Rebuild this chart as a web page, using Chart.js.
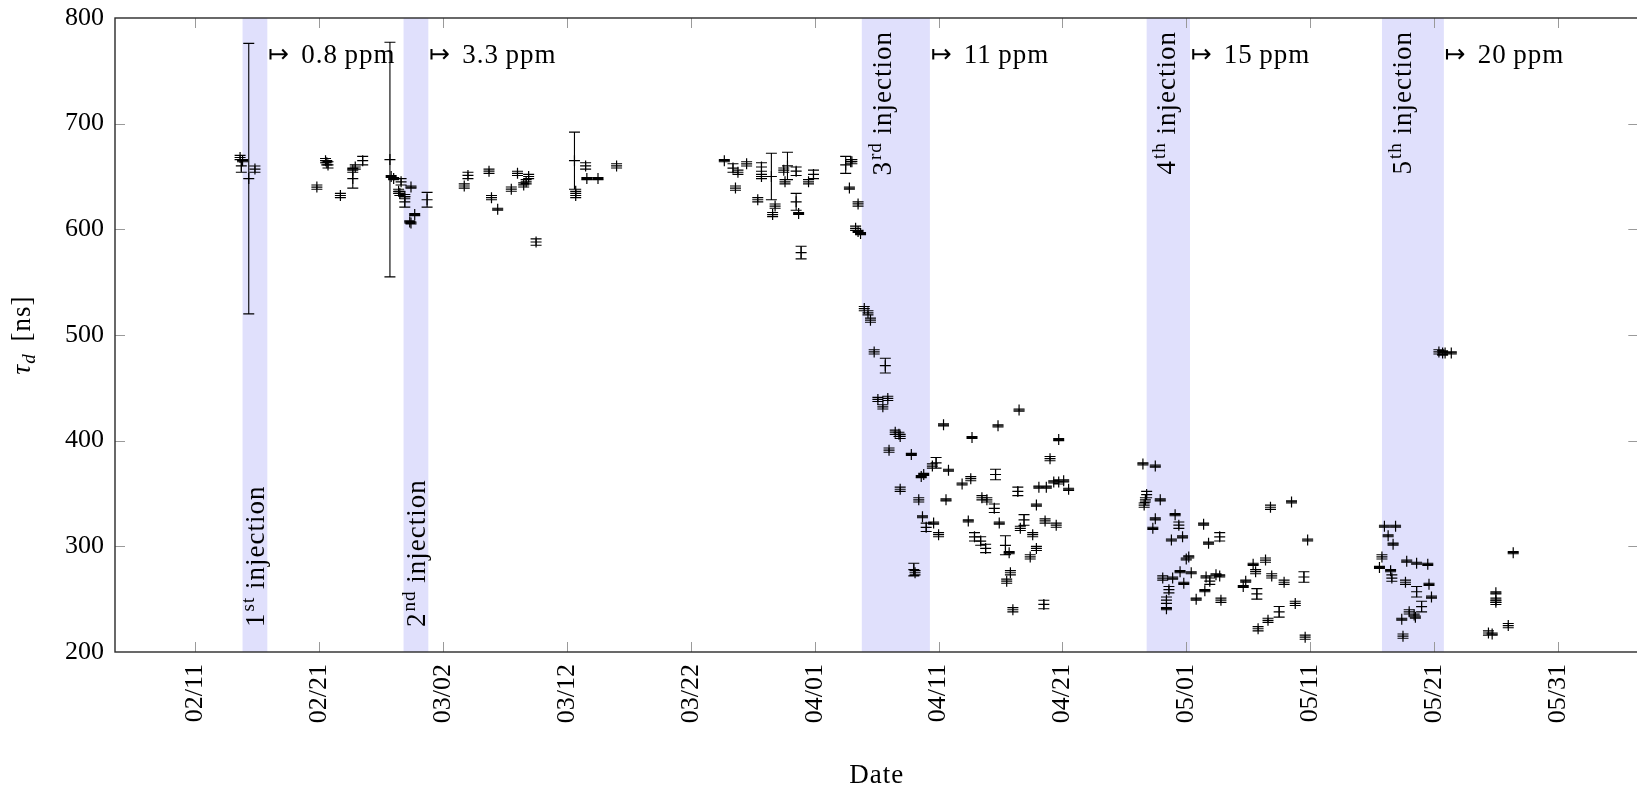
<!DOCTYPE html>
<html>
<head>
<meta charset="utf-8">
<script src="https://cdn.jsdelivr.net/npm/chart.js@4.4.1/dist/chart.umd.min.js"></script>
<style>
  html, body { margin: 0; padding: 0; background: #fff; overflow: hidden; }
  #wrap { width: 1637px; height: 787px; overflow: hidden; }
</style>
</head>
<body>
<div id="wrap"><canvas id="tauChart" width="1645" height="787"></canvas></div>
<script>
// x values are days counted from 02/01 (leap year), y values are tau_d in ns

// date axis
const tickDays = [10, 20, 30, 40, 50, 60, 70, 80, 90, 100, 110, 120];
const tickLabels = ['02/11', '02/21', '03/02', '03/12', '03/22', '04/01', '04/11', '04/21', '05/01', '05/11', '05/21', '05/31'];

// injections
const injStart = [13.8, 26.8, 63.8, 86.8, 105.8];
const injEnd = [15.8, 28.8, 69.3, 90.3, 110.8];
const injPpm = ['0.8', '3.3', '11', '15', '20'];
const injOrdinal = ['st', 'nd', 'rd', 'th', 'th'];

// 0 ppm
const days0 = [13.6, 13.7, 13.8];
const tau0 = [668, 660, 665];
const err0 = [2, 6, 1];

// 0.8 ppm
const days1 = [14.3, 14.8, 19.8, 20.5, 20.6, 20.7, 21.7, 22.7, 22.7, 22.9, 23.5, 25.7, 25.8, 26.0, 26.4, 26.5, 26.6];
const tau1 = [648, 657, 640, 665, 663, 661, 632, 656, 648, 659, 665, 666, 650, 648, 636, 634, 645];
const err1 = [128, 3, 2, 2, 2, 3, 2, 2, 9, 2, 4, 111, 1, 1, 2, 2, 3];

// 3.3 ppm
const days2 = [26.9, 26.9, 27.3, 27.4, 27.4, 27.7, 28.7, 31.7, 32.0, 33.7, 33.9, 34.4, 35.5, 36.0, 36.5, 36.7, 36.9, 37.5,
  40.6, 40.7, 40.7, 41.5, 41.6, 42.5, 44.0, 52.7, 53.4, 53.6, 53.8, 54.5, 55.4, 55.7, 55.7, 56.5, 56.6, 56.8,
  57.5, 57.6, 57.8, 58.5, 58.5, 58.7, 58.9, 59.5, 59.9, 62.5, 62.8, 62.9, 63.0, 63.3, 63.5, 63.5, 63.7];
const tau2 = [626, 631, 607, 606, 640, 614, 628, 641, 651, 655, 630, 619, 638, 653, 642, 645, 650, 588,
  665, 632, 636, 660, 648, 648, 660, 665, 658, 639, 654, 662, 628, 659, 650, 650, 614, 622,
  656, 645, 660, 655, 626, 615, 578, 645, 652, 661, 639, 664, 664, 601, 624, 598, 596];
const err2 = [5, 2, 1, 1, 1, 1, 7, 2, 3, 2, 2, 1, 2, 2, 2, 2, 2, 3,
  27, 2, 2, 3, 1, 1, 2, 1, 4, 2, 2, 2, 2, 4, 2, 22, 2, 2,
  2, 2, 13, 4, 8, 1, 6, 2, 4, 8, 1, 2, 2, 2, 2, 1, 1];

// 11 ppm
const days3 = [64.0, 64.3, 64.5, 64.8, 65.1, 65.5, 65.7, 65.9, 66.0, 66.5, 66.8, 66.9, 66.9, 67.8, 68.0, 68.1, 68.4,
  68.6, 68.7, 68.8, 69.0, 69.5, 69.6, 69.8, 70.0, 70.4, 70.6, 70.8, 71.9, 72.4, 72.6, 72.7, 72.9, 73.4, 73.5,
  73.8, 73.9, 74.5, 74.6, 74.8, 74.9, 75.4, 75.5, 75.7, 75.8, 76.0, 76.4, 76.5, 76.6, 76.9, 77.4, 77.6, 77.9,
  77.9, 78.1, 78.5, 78.6, 78.7, 79.0, 79.3, 79.5, 79.7, 79.7, 80.1, 80.5];
const tau3 = [525, 521, 514, 484, 439, 432, 471, 440, 391, 408, 406, 404, 354, 387, 278, 275, 344,
  366, 328, 368, 318, 376, 322, 379, 311, 415, 344, 372, 359, 324, 364, 403, 309, 305, 346,
  298, 344, 336, 368, 414, 322, 301, 267, 294, 275, 240, 352, 429, 317, 325, 290, 311, 298,
  339, 356, 245, 324, 356, 383, 361, 320, 361, 401, 362, 354];
const err3 = [2, 2, 2, 2, 2, 2, 7, 2, 2, 2, 2, 2, 2, 1, 6, 2, 2,
  1, 1, 1, 4, 2, 1, 5, 2, 1, 1, 1, 1, 1, 2, 1, 4, 4, 2,
  4, 2, 4, 5, 1, 1, 9, 2, 1, 2, 2, 4, 1, 2, 5, 2, 2, 2,
  1, 1, 4, 2, 1, 2, 1, 2, 2, 1, 1, 1];

// 15 ppm
const days4 = [86.5, 86.6, 86.7, 86.8, 87.3, 87.5, 87.5, 87.9, 88.1, 88.4, 88.4, 88.6, 88.8, 88.9, 89.1, 89.4,
  89.5, 89.7, 89.8, 90.0, 90.2, 90.4, 90.8, 91.4, 91.5, 91.6, 91.8, 91.9, 92.4, 92.7, 92.7, 92.8, 94.6, 94.8,
  95.4, 95.6, 95.7, 95.8, 96.4, 96.6, 96.8, 96.9, 97.5, 97.9, 98.5, 98.8, 99.5, 99.6, 99.8];
const tau4 = [378, 339, 344, 349, 317, 326, 376, 344, 270, 241, 249, 259, 306, 270, 330, 320,
  276, 309, 265, 288, 290, 275, 250, 321, 258, 271, 303, 267, 273, 272, 309, 249, 262, 267,
  283, 276, 255, 222, 287, 230, 337, 272, 238, 266, 342, 246, 271, 214, 306];
const err4 = [1, 2, 2, 3, 1, 1, 1, 1, 2, 1, 3, 3, 1, 1, 1, 3,
  1, 1, 1, 1, 1, 1, 1, 1, 1, 1, 1, 3, 1, 1, 4, 2, 1, 1,
  1, 2, 5, 2, 2, 2, 2, 2, 5, 2, 1, 2, 5, 2, 1];

// 20 ppm
const days5 = [105.6, 105.8, 106.0, 106.3, 106.5, 106.6, 106.7, 106.9, 107.4, 107.5, 107.7, 107.8, 108.0, 108.4,
  108.5, 108.6, 108.6, 109.0, 109.5, 109.6, 109.8, 110.4, 110.7, 110.9, 111.4, 114.4, 114.7, 115.0, 115.0,
  115.0, 116.0, 116.4];
const tau5 = [280, 290, 319, 310, 277, 270, 302, 319, 231, 215, 266, 286, 238, 235,
  233, 257, 284, 243, 283, 264, 252, 484, 483, 483, 483, 218, 217, 256, 249,
  247, 225, 294];
const err5 = [1, 2, 1, 1, 1, 3, 1, 1, 1, 2, 2, 1, 2, 1,
  1, 5, 1, 5, 1, 1, 1, 2, 2, 1, 1, 2, 1, 1, 2,
  2, 2, 1];

const SERIF = "'Liberation Serif', 'Times New Roman', serif";
const TICK_FONT = { family: SERIF, size: 26 };
const TEXT_FONT = '27px ' + SERIF;
const SUP_FONT = '19px ' + SERIF;
const CAP = 5.5;

const segments = [
  [days0, tau0, err0], [days1, tau1, err1], [days2, tau2, err2],
  [days3, tau3, err3], [days4, tau4, err4], [days5, tau5, err5]
];

const datasets = segments.map(([d, t, e]) => ({
  data: d.map((x, i) => ({ x: x, y: t[i] })),
  errors: e,
  pointStyle: 'cross',
  pointRadius: 5.5,
  pointHoverRadius: 5.5,
  pointBorderWidth: 1.2,
  borderColor: '#000',
  backgroundColor: '#000',
  showLine: false
}));

// shaded injection periods, inward ticks and the axis frame
const backdropPlugin = {
  id: 'backdrop',
  beforeDatasetsDraw(chart) {
    const { ctx, chartArea: a, scales: { x, y } } = chart;
    ctx.save();
    ctx.fillStyle = 'rgb(224,224,252)';
    injStart.forEach((s, i) => {
      const x0 = x.getPixelForValue(s), x1 = x.getPixelForValue(injEnd[i]);
      ctx.fillRect(x0, a.top, x1 - x0, a.bottom - a.top);
    });

    ctx.strokeStyle = '#9a9a9a';
    ctx.lineWidth = 1;
    ctx.beginPath();
    tickDays.forEach(d => {
      const px = Math.round(x.getPixelForValue(d)) + 0.5;
      ctx.moveTo(px, a.bottom); ctx.lineTo(px, a.bottom - 10);
      ctx.moveTo(px, a.top); ctx.lineTo(px, a.top + 10);
    });
    for (let v = 300; v <= 700; v += 100) {
      const py = Math.round(y.getPixelForValue(v)) + 0.5;
      ctx.moveTo(a.left, py); ctx.lineTo(a.left + 10, py);
      ctx.moveTo(a.right, py); ctx.lineTo(a.right - 10, py);
    }
    ctx.stroke();

    ctx.strokeStyle = '#2a2a2a';
    ctx.lineWidth = 1.4;
    ctx.strokeRect(a.left, a.top, a.right - a.left, a.bottom - a.top);
    ctx.restore();
  }
};

const errorBarPlugin = {
  id: 'errorBars',
  afterDatasetsDraw(chart) {
    const { ctx, scales: { y } } = chart;
    ctx.save();
    ctx.strokeStyle = '#000';
    ctx.lineWidth = 1.1;
    ctx.beginPath();
    chart.data.datasets.forEach((ds, i) => {
      chart.getDatasetMeta(i).data.forEach((pt, j) => {
        const v = ds.data[j].y, e = ds.errors[j];
        const top = y.getPixelForValue(v + e), bot = y.getPixelForValue(v - e);
        ctx.moveTo(pt.x, top); ctx.lineTo(pt.x, bot);
        ctx.moveTo(pt.x - CAP, top); ctx.lineTo(pt.x + CAP, top);
        ctx.moveTo(pt.x - CAP, bot); ctx.lineTo(pt.x + CAP, bot);
      });
    });
    ctx.stroke();
    ctx.restore();
  }
};

function widthOf(ctx, text, font) {
  ctx.font = font;
  return ctx.measureText(text).width;
}

// injection names, concentration arrows and axis titles
const textPlugin = {
  id: 'texts',
  afterDatasetsDraw(chart) {
    const { ctx, chartArea: a, scales: { x } } = chart;
    ctx.save();
    ctx.fillStyle = '#000';
    ctx.letterSpacing = '1px';
    ctx.textBaseline = 'alphabetic';
    ctx.textAlign = 'left';

    injStart.forEach((s, i) => {
      const mid = (s + injEnd[i]) / 2;
      const cx = x.getPixelForValue(Math.min(mid, s + 1.6));
      const num = String(i + 1), sup = injOrdinal[i], word = ' injection';
      const w1 = widthOf(ctx, num, TEXT_FONT);
      const w2 = widthOf(ctx, sup, SUP_FONT);
      const w3 = widthOf(ctx, word, TEXT_FONT);
      const start = i < 2 ? a.bottom - 25 : a.top + 14 + w1 + w2 + w3;
      ctx.save();
      ctx.translate(cx + 9, start);
      ctx.rotate(-Math.PI / 2);
      ctx.font = TEXT_FONT; ctx.fillText(num, 0, 0);
      ctx.font = SUP_FONT; ctx.fillText(sup, w1 + 1, -10);
      ctx.font = TEXT_FONT; ctx.fillText(word, w1 + w2 + 1, 0);
      ctx.restore();

      // concentration reached after the injection
      const px = x.getPixelForValue(injEnd[i]) + 1;
      const base = a.top + 45;
      const arrowFont = "25px 'DejaVu Sans', sans-serif";
      ctx.font = arrowFont;
      ctx.fillText('\u21A6', px, base - 1);
      const wa = widthOf(ctx, '\u21A6 ', arrowFont);
      ctx.font = TEXT_FONT;
      ctx.fillText(injPpm[i] + '\u2009ppm', px + wa + 2, base);
    });

    // x axis title
    ctx.font = TEXT_FONT;
    ctx.textAlign = 'center';
    ctx.fillText('Date', (a.left + a.right) / 2, 783);

    // y axis title: tau_d [ns]
    ctx.textAlign = 'left';
    const tauFont = 'italic 27px ' + SERIF, subFont = 'italic 19px ' + SERIF;
    const wt = widthOf(ctx, '\u03C4', tauFont);
    const wd = widthOf(ctx, 'd', subFont);
    const wn = widthOf(ctx, ' [ns]', TEXT_FONT);
    ctx.translate(30, (a.top + a.bottom) / 2);
    ctx.rotate(-Math.PI / 2);
    let off = -(wt + wd + 4 + wn) / 2;
    ctx.font = tauFont; ctx.fillText('\u03C4', off, 0);
    off += wt;
    ctx.font = subFont; ctx.fillText('d', off, 5);
    off += wd + 4;
    ctx.font = TEXT_FONT; ctx.fillText(' [ns]', off, 0);
    ctx.restore();
  }
};

new Chart(document.getElementById('tauChart'), {
  type: 'scatter',
  data: { datasets: datasets },
  options: {
    responsive: false,
    animation: false,
    events: [],
    layout: { padding: { left: 0, right: 2, top: 18, bottom: 0 } },
    plugins: { legend: { display: false }, tooltip: { enabled: false } },
    scales: {
      x: {
        type: 'linear',
        min: 3.5,
        max: 126.5,
        afterBuildTicks: scale => { scale.ticks = tickDays.map(v => ({ value: v })); },
        afterFit: scale => {
          scale.height = 135;
          scale.paddingLeft = 0;
          scale.paddingRight = 0;
        },
        grid: { display: false, drawTicks: false },
        border: { display: false },
        ticks: {
          autoSkip: false,
          minRotation: 90,
          maxRotation: 90,
          padding: 12,
          color: '#000',
          font: TICK_FONT,
          callback: value => tickLabels[tickDays.indexOf(value)]
        }
      },
      y: {
        min: 200,
        max: 800,
        afterFit: scale => {
          scale.width = 115;
          scale.paddingTop = 0;
          scale.paddingBottom = 0;
        },
        grid: { display: false, drawTicks: false },
        border: { display: false },
        ticks: { stepSize: 100, padding: 11, color: '#000', font: TICK_FONT }
      }
    }
  },
  plugins: [backdropPlugin, errorBarPlugin, textPlugin]
});
</script>
</body>
</html>
